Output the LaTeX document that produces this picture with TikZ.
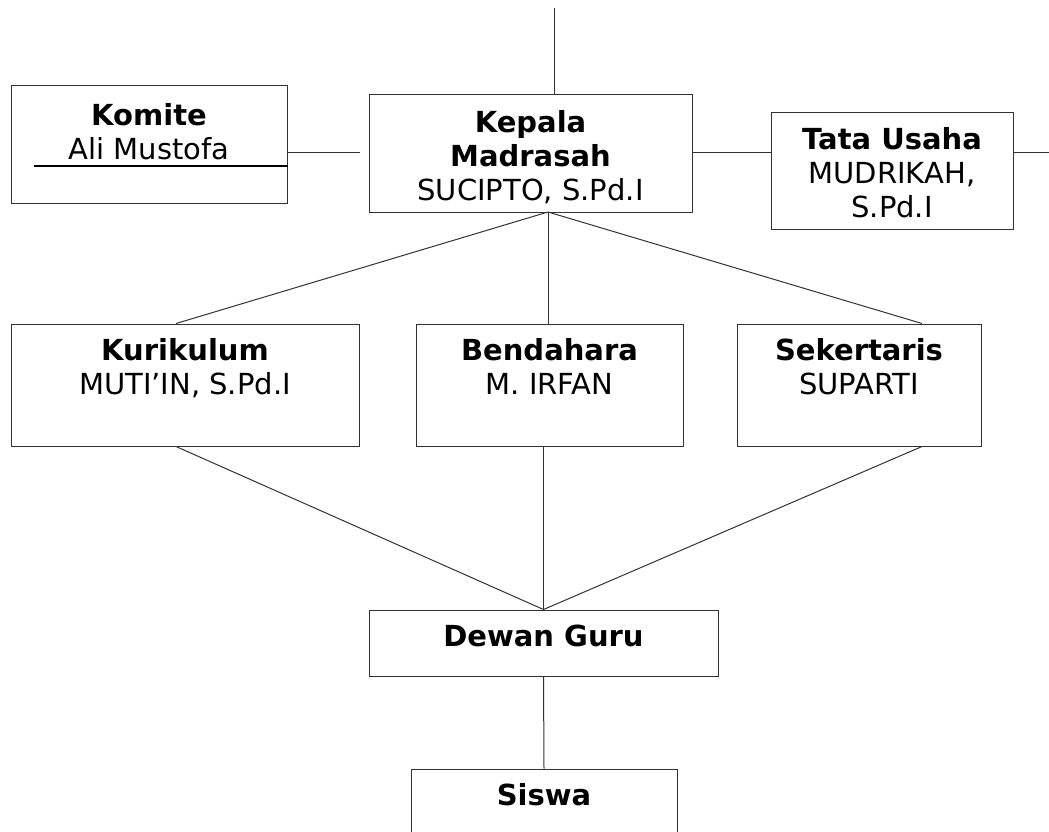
\documentclass[tikz,border=0pt]{standalone}
\usepackage{fontspec}
\setmainfont{DejaVu Sans}
\usepackage{tikz}
\usetikzlibrary{positioning, calc}

\begin{document}
\begin{tikzpicture}[x=1pt, y=-1pt,
    box/.style={draw=black!80, line width=1pt, rectangle, inner sep=0pt},
    txt/.style={align=center, inner sep=0pt, font=\fontsize{29}{34}\selectfont},
    conn/.style={draw=black!80, line width=1pt}]
    \useasboundingbox (0,0) rectangle (1049,832);

    % Top row
    \node[box, minimum width=276pt, minimum height=117pt] (komite) at (149,144.5) {};
    \node[box, minimum width=323pt, minimum height=117pt] (kepala) at (530.5,153.5) {};
    \node[box, minimum width=242pt, minimum height=116pt] (tata) at (892,171) {};
    \node[txt, below=18pt of komite.north] (komitetxt) {\textbf{Komite}\\Ali Mustofa};
    \node[txt, below=16pt of kepala.north] (kepalatxt) {\textbf{Kepala}\\\textbf{Madrasah}\\SUCIPTO, S.Pd.I};
    \node[txt, below=15pt of tata.north] (tatatxt) {\textbf{Tata Usaha}\\MUDRIKAH,\\S.Pd.I};

    % Middle row
    \node[box, minimum width=348pt, minimum height=122pt] (kur) at (185,385) {};
    \node[box, minimum width=267pt, minimum height=122pt] (bend) at (549.5,385) {};
    \node[box, minimum width=244pt, minimum height=122pt] (sek) at (859,385) {};
    \node[txt, below=15pt of kur.north] (kurtxt) {\textbf{Kurikulum}\\MUTI’IN, S.Pd.I};
    \node[txt, below=15pt of bend.north] (bendtxt) {\textbf{Bendahara}\\M. IRFAN};
    \node[txt, below=15pt of sek.north] (sektxt) {\textbf{Sekertaris}\\SUPARTI};

    % Bottom
    \node[box, minimum width=349pt, minimum height=66pt] (dewan) at (543.5,643) {};
    \node[box, minimum width=266pt, minimum height=122pt] (siswa) at (544,830) {};
    \node[txt, below=15pt of dewan.north] (dewantxt) {\textbf{Dewan Guru}};
    \node[txt, below=15pt of siswa.north] (siswatxt) {\textbf{Siswa}};

    % Horizontal links
    \coordinate (topend) at (554,8);
    \coordinate (komend) at (360,152);
    \coordinate (tataend) at (1049,152);
    \coordinate (ulstart) at (34,166);
    \draw[conn] (topend) -- (topend |- kepala.north);
    \draw[conn] (komite.east |- komend) -- (komend);
    \draw[conn] (kepala.east |- komend) -- (tata.west |- komend);
    \draw[conn] (tata.east |- tataend) -- (tataend);
    \draw[line width=2pt] (ulstart) -- (komite.east |- ulstart);

    % Kepala to middle row
    \coordinate (kephub) at (548,212);
    \draw[conn] (kephub) -- ($(kur.north)+(-9,0)$);
    \draw[conn] (kephub) -- (kephub |- bend.north);
    \draw[conn] (kephub) -- ($(sek.north)+(63,0)$);

    % Middle row to Dewan Guru
    \draw[conn] ($(kur.south)+(-9,0)$) -- (dewan.north);
    \draw[conn] (dewan.north |- bend.south) -- (dewan.north);
    \draw[conn] ($(sek.south)+(63,0)$) -- (dewan.north);
    \draw[conn] (dewan.south) -- (siswa.north);
\end{tikzpicture}
\end{document}
